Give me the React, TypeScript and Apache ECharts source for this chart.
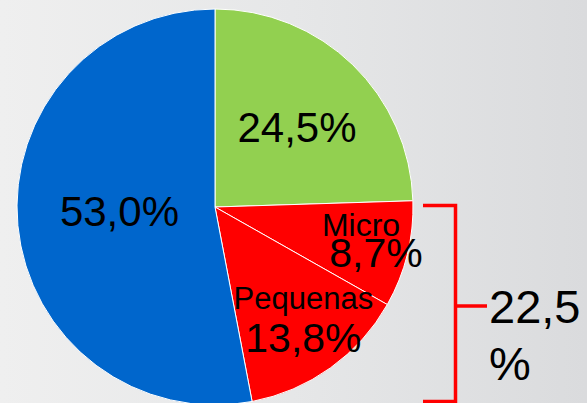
import React, { useEffect, useRef } from "react";
import * as echarts from "echarts";

const categories = ["Grandes", "Micro", "Pequenas", "Médias"];
const values = [24.5, 8.7, 13.8, 53.0];
const colors = ["#92D050", "#FF0000", "#FF0000", "#0066CC"];
const namedSlices = ["Micro", "Pequenas"];
const bracketGroup = ["Micro", "Pequenas"];

const fmt = (v: number) => v.toFixed(1).replace(".", ",");

const FONT = "'Liberation Sans', Arial, sans-serif";

// label offsets relative to the "inside" anchor (layout only)
const labelOffsets = [
  { dx: 11, dy: -6 },
  { dx: 62, dy: 10 },
  { dx: 29, dy: 31 },
  { dx: 6, dy: -5 },
];

export default function App() {
  const ref = useRef<HTMLDivElement>(null);
  useEffect(() => {
    if (!ref.current) return;
    const chart = echarts.init(ref.current, null, { renderer: "svg" });
    const groupTotal = categories.reduce(
      (s, c, i) => (bracketGroup.includes(c) ? s + values[i] : s),
      0
    );
    const data = categories.map((name, i) => {
      const named = namedSlices.includes(name);
      return {
        name,
        value: values[i],
        itemStyle: { color: colors[i] },
        label: {
          formatter: named
            ? name === "Micro"
              ? `{n|${name}}\n{v2|${fmt(values[i])}%}`
              : `{n2|${name}}\n{v3|${fmt(values[i])}%}`
            : `{v|${fmt(values[i])}%}`,
        },
      };
    });
    chart.setOption({
      animation: false,
      backgroundColor: "transparent",
      series: [
        {
          type: "pie",
          center: [215, 207],
          radius: [0, 198],
          startAngle: 90,
          clockwise: true,
          avoidLabelOverlap: false,
          itemStyle: { borderColor: "#FFFFFF", borderWidth: 1 },
          emphasis: { disabled: true },
          label: {
            show: true,
            position: "inside",
            color: "#000",
            fontFamily: FONT,
            rich: {
              v: { fontSize: 42, fontFamily: FONT, color: "#000", lineHeight: 46 },
              n: {
                fontSize: 32,
                fontFamily: FONT,
                color: "#000",
                lineHeight: 24,
                padding: [0, 30, 0, 0],
              },
              v2: { fontSize: 41, fontFamily: FONT, color: "#000", lineHeight: 32 },
              n2: { fontSize: 31, fontFamily: FONT, color: "#000", lineHeight: 34 },
              v3: { fontSize: 41, fontFamily: FONT, color: "#000", lineHeight: 44 },
            },
          },
          labelLine: { show: false },
          labelLayout: (params: any) => labelOffsets[params.dataIndex],
          data,
        },
      ],
      graphic: [
        {
          type: "polyline",
          shape: {
            points: [
              [423, 205.5],
              [455.5, 205.5],
              [455.5, 401.5],
              [423, 401.5],
            ],
          },
          style: { stroke: "#FF0000", lineWidth: 3.5, fill: "none" },
        },
        {
          type: "line",
          shape: { x1: 455.5, y1: 306, x2: 487, y2: 306 },
          style: { stroke: "#FF0000", lineWidth: 3.5 },
        },
        {
          type: "text",
          x: 489,
          y: 278,
          style: {
            text: `${fmt(groupTotal)}\n%`,
            fontSize: 47,
            fontFamily: FONT,
            fill: "#000",
            lineHeight: 57,
            textAlign: "left",
            textVerticalAlign: "top",
          },
        },
      ],
    });
    return () => chart.dispose();
  }, []);
  return (
    <div
      ref={ref}
      style={{
        position: "fixed",
        left: 0,
        top: 0,
        width: 587,
        height: 403,
        background: "linear-gradient(to right, #EFEFEF 0%, #E6E7E8 50%, #DADBDD 100%)",
      }}
    />
  );
}
